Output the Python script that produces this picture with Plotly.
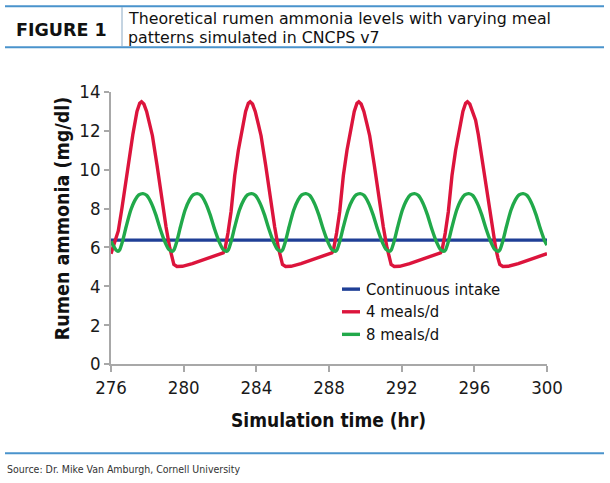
import plotly.graph_objects as go

# ---------------- data ----------------
blue_hr = [276.0, 300.0]
blue_val = [6.38, 6.38]

red_hr = [
    276.00, 276.20, 276.40, 276.60, 276.80, 277.00, 277.20, 277.43, 277.58, 277.68,
    277.81, 277.96, 278.13, 278.28, 278.53, 278.78, 279.03, 279.23, 279.36, 279.46,
    279.63, 279.93, 280.48, 281.08, 281.68, 282.18,
    282.26, 282.44, 282.61, 282.81, 283.01, 283.21, 283.41, 283.56, 283.66,
    283.79, 283.94, 284.11, 284.26, 284.51, 284.76, 285.01, 285.21, 285.34, 285.44,
    285.61, 285.91, 286.46, 287.06, 287.66, 288.16,
    288.24, 288.42, 288.59, 288.79, 288.99, 289.19, 289.39, 289.54, 289.64,
    289.77, 289.92, 290.09, 290.24, 290.49, 290.74, 290.99, 291.19, 291.32, 291.42,
    291.59, 291.89, 292.44, 293.04, 293.64, 294.14,
    294.22, 294.40, 294.57, 294.77, 294.97, 295.17, 295.37, 295.52, 295.62,
    295.75, 295.90, 296.07, 296.22, 296.47, 296.72, 296.97, 297.17, 297.30, 297.40,
    297.57, 297.87, 298.42, 299.02, 299.62, 300.00,
]
red_val = [
    5.68, 6.20, 6.85, 8.00, 9.30, 10.60, 11.80, 13.00, 13.42, 13.50,
    13.38, 13.00, 12.35, 11.75, 10.25, 8.60, 7.05, 6.00, 5.45, 5.12,
    5.02, 5.03, 5.17, 5.35, 5.55, 5.72,
    5.85, 6.75, 7.85, 9.70, 11.00, 12.10, 13.00, 13.42, 13.50,
    13.38, 13.00, 12.35, 11.75, 10.25, 8.60, 7.05, 6.00, 5.45, 5.12,
    5.02, 5.03, 5.17, 5.35, 5.55, 5.72,
    5.85, 6.75, 7.85, 9.70, 11.00, 12.10, 13.00, 13.42, 13.50,
    13.38, 13.00, 12.35, 11.75, 10.25, 8.60, 7.05, 6.00, 5.45, 5.12,
    5.02, 5.03, 5.17, 5.35, 5.55, 5.72,
    5.85, 6.75, 7.85, 9.70, 11.00, 12.10, 13.00, 13.42, 13.50,
    13.38, 13.00, 12.55, 11.80, 10.25, 8.60, 7.05, 6.00, 5.45, 5.12,
    5.02, 5.03, 5.17, 5.35, 5.55, 5.68,
]

green_hr = [
    276.00, 276.15, 276.28,
    276.38, 276.48, 276.63, 276.83, 277.08, 277.33, 277.53, 277.76, 277.96, 278.21, 278.46, 278.71, 278.96, 279.18,
    279.37, 279.47, 279.62, 279.82, 280.07, 280.32, 280.52, 280.75, 280.95, 281.20, 281.45, 281.70, 281.95, 282.17,
    282.36, 282.46, 282.61, 282.81, 283.06, 283.31, 283.51, 283.74, 283.94, 284.19, 284.44, 284.69, 284.94, 285.16,
    285.35, 285.45, 285.60, 285.80, 286.05, 286.30, 286.50, 286.73, 286.93, 287.18, 287.43, 287.68, 287.93, 288.15,
    288.34, 288.44, 288.59, 288.79, 289.04, 289.29, 289.49, 289.72, 289.92, 290.17, 290.42, 290.67, 290.92, 291.14,
    291.33, 291.43, 291.58, 291.78, 292.03, 292.28, 292.48, 292.71, 292.91, 293.16, 293.41, 293.66, 293.91, 294.13,
    294.32, 294.42, 294.57, 294.77, 295.02, 295.27, 295.47, 295.70, 295.90, 296.15, 296.40, 296.65, 296.90, 297.12,
    297.31, 297.41, 297.56, 297.76, 298.01, 298.26, 298.46, 298.69, 298.89, 299.14, 299.39, 299.64, 299.89, 300.00,
]
green_val = [
    6.32, 6.05, 5.86,
    5.80, 5.88, 6.30, 7.05, 7.90, 8.45, 8.70, 8.77, 8.68, 8.30, 7.70, 6.95, 6.30, 5.90,
    5.80, 5.88, 6.30, 7.05, 7.90, 8.45, 8.70, 8.77, 8.68, 8.30, 7.70, 6.95, 6.30, 5.90,
    5.80, 5.88, 6.30, 7.05, 7.90, 8.45, 8.70, 8.77, 8.68, 8.30, 7.70, 6.95, 6.30, 5.90,
    5.80, 5.88, 6.30, 7.05, 7.90, 8.45, 8.70, 8.77, 8.68, 8.30, 7.70, 6.95, 6.30, 5.90,
    5.80, 5.88, 6.30, 7.05, 7.90, 8.45, 8.70, 8.77, 8.68, 8.30, 7.70, 6.95, 6.30, 5.90,
    5.80, 5.88, 6.30, 7.05, 7.90, 8.45, 8.70, 8.77, 8.68, 8.30, 7.70, 6.95, 6.30, 5.90,
    5.80, 5.88, 6.30, 7.05, 7.90, 8.45, 8.70, 8.77, 8.68, 8.30, 7.70, 6.95, 6.30, 5.90,
    5.80, 5.88, 6.30, 7.05, 7.90, 8.45, 8.70, 8.77, 8.68, 8.30, 7.70, 6.95, 6.30, 6.12,
]

series_names = ["Continuous intake", "4 meals/d", "8 meals/d"]
x_ticks = [276, 280, 284, 288, 292, 296, 300]
y_ticks = [0, 2, 4, 6, 8, 10, 12, 14]

# ---------------- styling ----------------
COND = "DejaVu Sans Condensed, Liberation Sans Narrow, Liberation Sans, Arial"
HEAD = "DejaVu Sans, Verdana, sans-serif"
BLUE = "#1f3f96"
RED = "#dc143c"
GREEN = "#21a94a"
RULE = "#4a93cc"
AXIS = "#a8a8a8"
COLORS = [BLUE, RED, GREEN]

W, H = 610, 483
L, R, T, B = 111, 547, 91.5, 364
PW, PH = R - L, B - T


def fx(px):
    return (px - L) / PW


def fy(py):
    return (B - py) / PH


fig = go.Figure()
fig.add_trace(go.Scatter(x=blue_hr, y=blue_val, mode="lines", name=series_names[0],
                         line=dict(color=BLUE, width=3.2), showlegend=False))
fig.add_trace(go.Scatter(x=red_hr, y=red_val, mode="lines", name=series_names[1],
                         line=dict(color=RED, width=3.4), showlegend=False))
fig.add_trace(go.Scatter(x=green_hr, y=green_val, mode="lines", name=series_names[2],
                         line=dict(color=GREEN, width=3.4, shape="spline", smoothing=0.6),
                         showlegend=False))

fig.update_xaxes(range=[276, 300], tickvals=x_ticks, ticktext=[str(t) for t in x_ticks],
                 showline=True, linecolor=AXIS, linewidth=1.5, ticks="outside", ticklen=6,
                 tickcolor=AXIS, tickwidth=1.5, showgrid=False, zeroline=False,
                 tickfont=dict(family=COND, size=18.5, color="#1a1a1a"))
fig.update_yaxes(range=[0, 14], tickvals=y_ticks, ticktext=[str(t) for t in y_ticks],
                 showline=True, linecolor=AXIS, linewidth=1.5, ticks="outside", ticklen=5,
                 tickcolor=AXIS, tickwidth=1.5, showgrid=False, zeroline=False,
                 tickfont=dict(family=COND, size=18.5, color="#1a1a1a"))

shapes = [
    dict(type="line", xref="paper", yref="paper", x0=fx(5), x1=fx(604), y0=fy(5.7), y1=fy(5.7),
         line=dict(color=RULE, width=2)),
    dict(type="line", xref="paper", yref="paper", x0=fx(5), x1=fx(604), y0=fy(46.7), y1=fy(46.7),
         line=dict(color=RULE, width=2)),
    dict(type="line", xref="paper", yref="paper", x0=fx(122), x1=fx(122), y0=fy(6.5), y1=fy(46),
         line=dict(color="#8aa9c4", width=1)),
    dict(type="line", xref="paper", yref="paper", x0=fx(5), x1=fx(604), y0=fy(453.3), y1=fy(453.3),
         line=dict(color=RULE, width=2)),
]

annotations = [
    dict(text="<b>FIGURE 1</b>", xref="paper", yref="paper", x=fx(14), y=fy(29), xanchor="left",
         yanchor="middle", showarrow=False, font=dict(family=HEAD, size=17.5, color="#111111")),
    dict(text="Theoretical rumen ammonia levels with varying meal", xref="paper", yref="paper",
         x=fx(126), y=fy(18), xanchor="left", yanchor="middle", showarrow=False,
         font=dict(family=HEAD, size=15.8, color="#111111")),
    dict(text="patterns simulated in CNCPS v7", xref="paper", yref="paper",
         x=fx(126), y=fy(36.5), xanchor="left", yanchor="middle", showarrow=False,
         font=dict(family=HEAD, size=15.8, color="#111111")),
    dict(text="<b>Rumen ammonia (mg/dl)</b>", xref="paper", yref="paper", x=fx(62), y=fy(218),
         xanchor="center", yanchor="middle", textangle=-90, showarrow=False,
         font=dict(family=COND, size=19.5, color="#111111")),
    dict(text="<b>Simulation time (hr)</b>", xref="paper", yref="paper", x=fx(328), y=fy(420),
         xanchor="center", yanchor="middle", showarrow=False,
         font=dict(family=COND, size=19, color="#111111")),
    dict(text="Source: Dr. Mike Van Amburgh, Cornell University", xref="paper", yref="paper",
         x=fx(5), y=fy(469), xanchor="left", yanchor="middle", showarrow=False,
         font=dict(family=COND, size=10.5, color="#333333")),
]

# manual legend (short line keys like the reference)
legend_rows = [289, 311.7, 334.3]
for name, color, row in zip(series_names, COLORS, legend_rows):
    shapes.append(dict(type="line", xref="paper", yref="paper", x0=fx(342), x1=fx(360),
                       y0=fy(row), y1=fy(row), line=dict(color=color, width=3.4)))
    annotations.append(dict(text=name, xref="paper", yref="paper", x=fx(364), y=fy(row),
                            xanchor="left", yanchor="middle", showarrow=False,
                            font=dict(family=COND, size=16.5, color="#111111")))

fig.update_layout(
    width=W, height=H,
    margin=dict(l=L, r=W - R, t=T, b=H - B, pad=0),
    paper_bgcolor="white", plot_bgcolor="white",
    showlegend=False,
    shapes=shapes,
    annotations=annotations,
)

fig.write_html("out.html")
